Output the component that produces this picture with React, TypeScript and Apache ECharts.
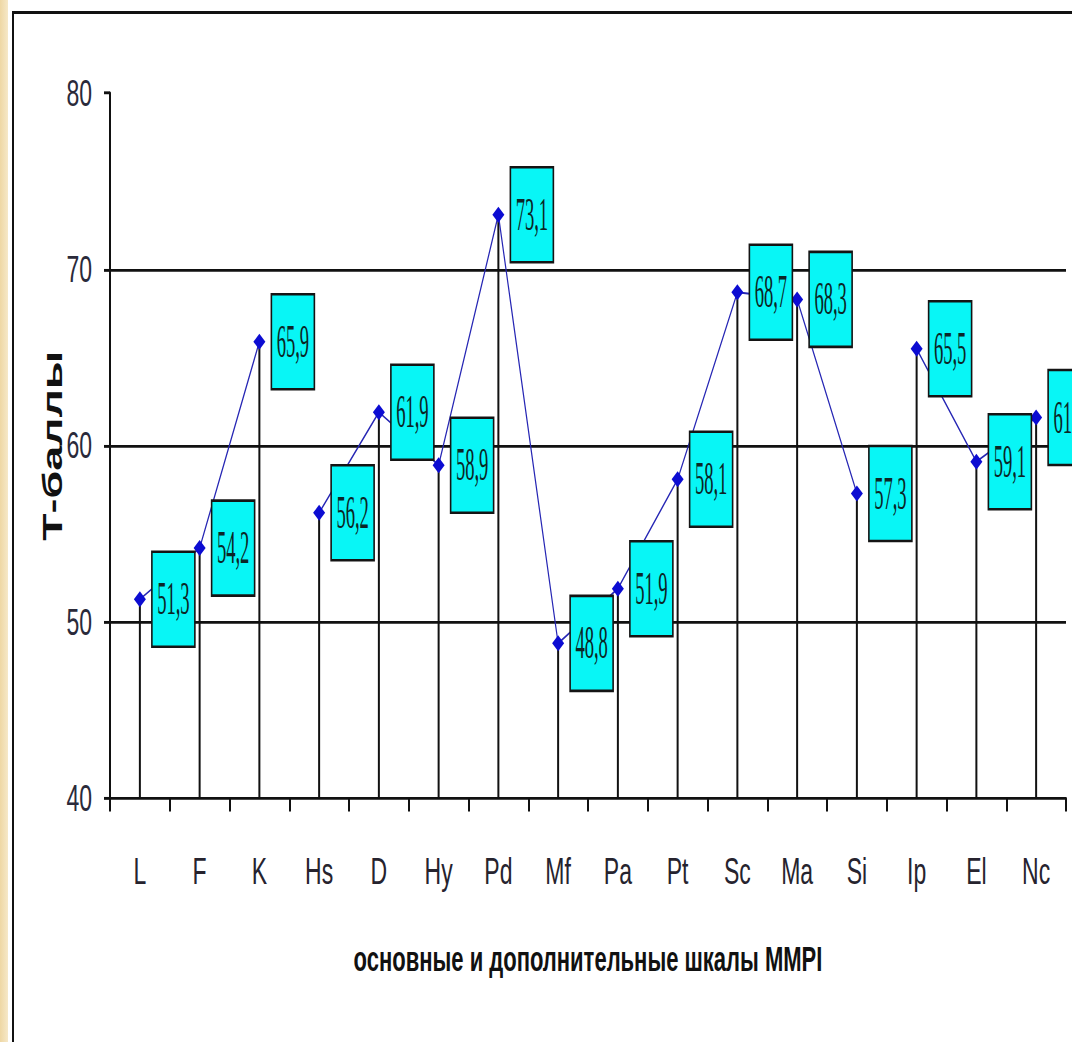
import React, { useEffect, useRef } from "react";
import * as echarts from "echarts";

const categories = ["L", "F", "K", "Hs", "D", "Hy", "Pd", "Mf", "Pa", "Pt", "Sc", "Ma", "Si", "Ip", "El", "Nc"];
const tScores = [51.3, 54.2, 65.9, 56.2, 61.9, 58.9, 73.1, 48.8, 51.9, 58.1, 68.7, 68.3, 57.3, 65.5, 59.1, 61.6];
const scoreLabels = ["51,3", "54,2", "65,9", "56,2", "61,9", "58,9", "73,1", "48,8", "51,9", "58,1", "68,7", "68,3", "57,3", "65,5", "59,1", "61,6"];
// connected segments of the profile: [first index, last index]
const profileGroups = [
  [0, 2],
  [3, 12],
  [13, 15],
];
const yMin = 40;
const yMax = 80;
const yStep = 10;
const yTitle = "Т-баллы";
const xTitle = "основные и дополнительные шкалы MMPI";

const W = 1072;
const H = 1042;
const S = 1.6; // vertical stretch of the picture
const CH = H / S;

export default function App() {
  const ref = useRef<HTMLDivElement | null>(null);

  useEffect(() => {
    if (!ref.current) return;
    const chart = echarts.init(ref.current, undefined, { renderer: "svg" });

    const lineSeries = profileGroups.map(([a, b]) => ({
      type: "line",
      data: tScores.map((v, i) => (i >= a && i <= b ? v : null)),
      connectNulls: false,
      symbol: "diamond",
      symbolSize: [12, 10],
      itemStyle: { color: "#0c0cd2" },
      lineStyle: { color: "#2626b4", width: 1.2 },
      z: 3,
      silent: true,
    }));

    const pairData = tScores.map((v, i) => [i, v]);

    const option: any = {
      animation: false,
      grid: {
        left: 110,
        right: 6,
        top: 93 / S,
        bottom: (H - 799) / S,
        containLabel: false,
        outerBoundsMode: "none",
      },
      xAxis: {
        type: "category",
        data: categories,
        boundaryGap: true,
        axisLine: { show: true, lineStyle: { color: "#111", width: 1.8 } },
        axisTick: { show: true, alignWithLabel: false, length: 8, lineStyle: { color: "#111", width: 2 } },
        axisLabel: {
          interval: 0,
          margin: 34,
          fontSize: 23,
          fontFamily: "'Liberation Sans', Arial, sans-serif",
          color: "#26232e",
        },
        splitLine: { show: false },
        name: xTitle,
        nameLocation: "middle",
        nameGap: 89,
        nameMoveOverlap: false,
        nameTextStyle: {
          fontSize: 22,
          fontWeight: "bold",
          fontFamily: "'Liberation Sans', Arial, sans-serif",
          color: "#111",
        },
      },
      yAxis: {
        type: "value",
        min: yMin,
        max: yMax,
        interval: yStep,
        axisLine: { show: true, lineStyle: { color: "#111", width: 2 } },
        axisTick: { show: true, length: 6, lineStyle: { color: "#111", width: 1.8 } },
        axisLabel: {
          margin: 18,
          fontSize: 23,
          fontFamily: "'Liberation Sans Narrow', 'Arial Narrow', 'Liberation Sans', sans-serif",
          color: "#2a2a3a",
        },
        splitLine: {
          show: true,
          showMinLine: false,
          showMaxLine: false,
          lineStyle: { color: "#111", width: 1.8 },
        },
        name: yTitle,
        nameLocation: "middle",
        nameGap: 44,
        nameMoveOverlap: false,
        nameTextStyle: {
          fontSize: 28,
          fontWeight: "bold",
          fontFamily: "'Liberation Sans', Arial, sans-serif",
          color: "#111",
        },
      },
      series: [
        {
          type: "custom",
          data: pairData,
          encode: { x: 0, y: 1 },
          z: 1,
          silent: true,
          clip: false,
          renderItem: (_p: any, api: any) => {
            const i = api.value(0);
            const v = api.value(1);
            const top = api.coord([i, v]);
            const base = api.coord([i, yMin]);
            return {
              type: "line",
              shape: { x1: top[0], y1: top[1], x2: base[0], y2: base[1] },
              style: { stroke: "#111", lineWidth: 2 },
            };
          },
        },
        ...lineSeries,
        {
          type: "custom",
          data: pairData,
          encode: { x: 0, y: 1 },
          z: 5,
          silent: true,
          clip: false,
          renderItem: (p: any, api: any) => {
            const i = api.value(0);
            const v = api.value(1);
            const pt = api.coord([i, v]);
            const bw = 43;
            const bh = 95 / S;
            const bx = pt[0] + 12;
            const by = pt[1] - bh / 2;
            return {
              type: "group",
              children: [
                {
                  type: "rect",
                  shape: { x: bx, y: by, width: bw, height: bh },
                  style: { fill: "#08f6f6", stroke: "#141414", lineWidth: 1.6 },
                },
                {
                  type: "text",
                  x: bx + bw / 2,
                  y: pt[1],
                  scaleX: 0.64,
                  style: {
                    text: scoreLabels[p.dataIndex],
                    fontSize: 29,
                    fontFamily: "'Liberation Serif', 'Times New Roman', serif",
                    fill: "#0b2626",
                    align: "center",
                    verticalAlign: "middle",
                  },
                },
              ],
            };
          },
        },
      ],
    };

    chart.setOption(option);
    return () => {
      chart.dispose();
    };
  }, []);

  return (
    <div
      style={{
        position: "absolute",
        left: 0,
        top: 0,
        width: W,
        height: H,
        overflow: "hidden",
        background: "#ffffff",
      }}
    >
      <div
        style={{
          position: "absolute",
          left: 0,
          top: 0,
          width: 8,
          height: H,
          background: "linear-gradient(to right, #eed7a4, #f6e8c8)",
        }}
      />
      <div
        style={{
          position: "absolute",
          left: 12,
          top: 11,
          width: W + 40,
          height: H + 40,
          borderLeft: "2px solid #111",
          borderTop: "3px solid #111",
          boxSizing: "border-box",
        }}
      />
      <div
        ref={ref}
        style={{
          position: "absolute",
          left: 0,
          top: 0,
          width: W,
          height: CH,
          transform: `scaleY(${S})`,
          transformOrigin: "0 0",
        }}
      />
    </div>
  );
}
